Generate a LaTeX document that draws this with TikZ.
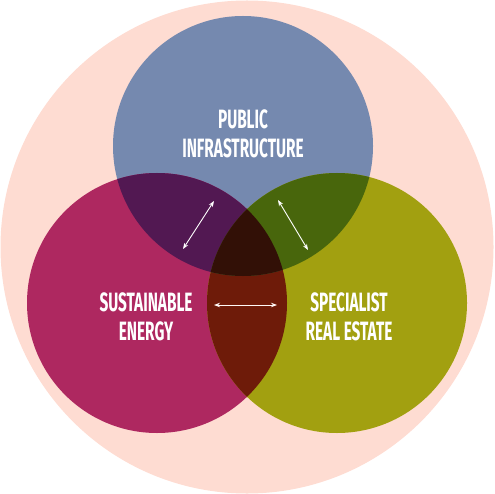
\documentclass[tikz,border=0pt]{standalone}
\usepackage{fontspec}
\usetikzlibrary{arrows.meta}
\newfontfamily\vennfont[FakeStretch=0.58]{Fira Sans}
% 色
\definecolor{bgpink}{HTML}{FEDCD2}
\definecolor{pubblue}{HTML}{7589AF}
\definecolor{susmag}{HTML}{AE2860}
\definecolor{speolive}{HTML}{A2A010}
\definecolor{pubsus}{HTML}{521852}
\definecolor{pubspe}{HTML}{48660C}
\definecolor{susspe}{HTML}{6E1B09}
\definecolor{allthree}{HTML}{321006}

\begin{document}
\begin{tikzpicture}[x=1pt, y=-1pt,
    vennlabel/.style={text=white, align=center,
        font=\vennfont\bfseries\fontsize{26.5}{29}\selectfont},
    link/.style={{Stealth[length=6pt,width=4.5pt]}-{Stealth[length=6pt,width=4.5pt]}, white, line width=0.9pt}]
    \useasboundingbox (0,0) rectangle (494,494);
    % 背景の円
    \fill[bgpink] (247,247) circle (246.5);
    % 三つの円の中心
    \coordinate (pub) at (243,146);
    \coordinate (sus) at (157,303);
    \coordinate (spe) at (337,303);
    \foreach \c/\col in {pub/pubblue, sus/susmag, spe/speolive} {
        \fill[\col] (\c) circle (130);
    }
    % 重なり部分
    \begin{scope}
        \clip (sus) circle (130);
        \fill[susspe] (spe) circle (130);
    \end{scope}
    \begin{scope}
        \clip (pub) circle (130);
        \fill[pubsus] (sus) circle (130);
        \fill[pubspe] (spe) circle (130);
        \clip (sus) circle (130);
        \fill[allthree] (spe) circle (130);
    \end{scope}
    % ラベル
    \node[vennlabel] (publbl) at (243,134) {PUBLIC\\INFRASTRUCTURE};
    \node[vennlabel] (suslbl) at (146,317) {SUSTAINABLE\\ENERGY};
    \node[vennlabel] (spelbl) at (349,317) {SPECIALIST\\REAL ESTATE};
    % 矢印
    \coordinate (ps1) at (183,249);
    \coordinate (ps2) at (214,201);
    \coordinate (pe1) at (278,200);
    \coordinate (pe2) at (308,250);
    \coordinate (se1) at (214,305);
    \coordinate (se2) at (277,305);
    \draw[link] (ps1) -- (ps2);
    \draw[link] (pe1) -- (pe2);
    \draw[link, white!80!bgpink] (se1) -- (se2);
\end{tikzpicture}
\end{document}
